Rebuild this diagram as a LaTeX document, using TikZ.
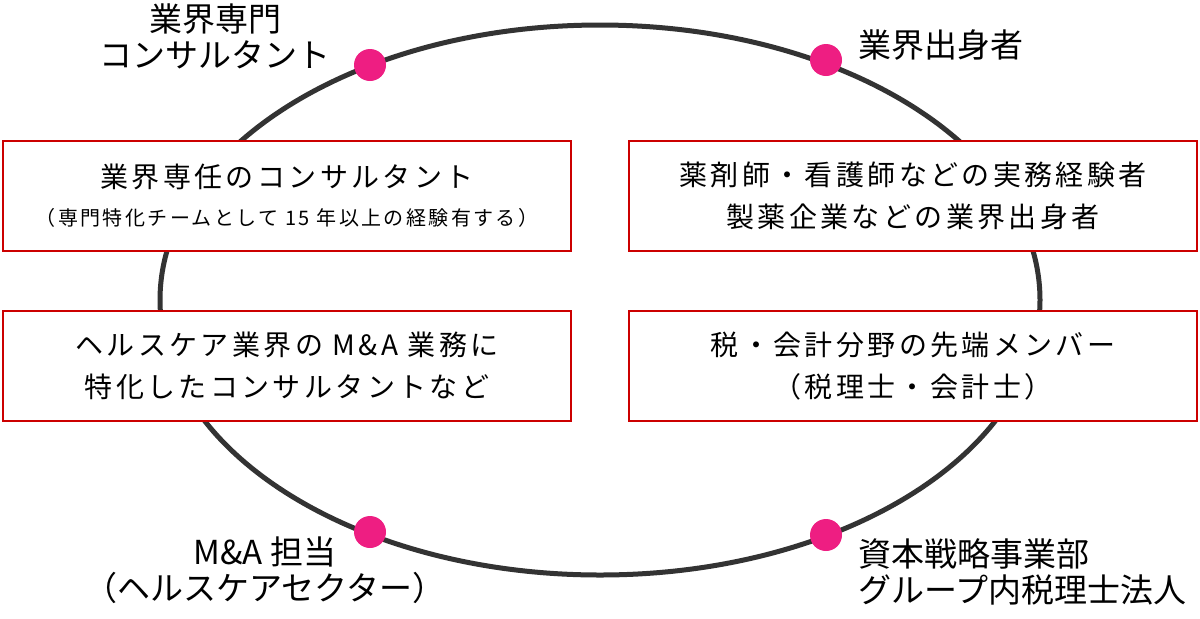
\documentclass[tikz,border=0pt]{standalone}
\usetikzlibrary{shapes.geometric}
\usepackage{fontspec}
\setmainfont{Noto Sans CJK JP}
\newfontfamily\jp[LetterSpace=12]{Noto Sans CJK JP}
\begin{document}
\begin{tikzpicture}[x=0.5pt,y=-0.5pt,
  box/.style={draw=red!80!black,line width=1pt,fill=white,minimum width=284pt,minimum height=55pt,anchor=north west,inner sep=0pt,align=center,font=\jp\fontsize{14}{21}\selectfont},
  dot/.style={circle,fill=magenta!80!red!90!white,minimum size=16pt,inner sep=0pt},
  lab/.style={font=\fontsize{16.5}{18}\selectfont,inner sep=0pt,align=center}]
\useasboundingbox (0,0) rectangle (1200,618);
\node[draw=black!80,line width=2.5pt,ellipse,minimum width=440pt,minimum height=275pt,inner sep=0pt] (ell) at (600,300) {};
\node[box] (b1) at (2,140) {業界専任のコンサルタント\\[-2pt]{\fontsize{10}{14}\selectfont （専門特化チームとして 15 年以上の経験有する）}};
\node[box] (b2) at (2,310) {ヘルスケア業界の M\&A 業務に\\特化したコンサルタントなど};
\node[box] (b3) at (628,140) {薬剤師・看護師などの実務経験者\\製薬企業などの業界出身者};
\node[box] (b4) at (628,310) {税・会計分野の先端メンバー\\（税理士・会計士）};
\node[dot] (d1) at (370,65) {};
\node[dot] (d2) at (826,60) {};
\node[dot] (d3) at (370,532) {};
\node[dot] (d4) at (826,535) {};
\node[lab] (l1) at (215,36) {業界専門\\コンサルタント};
\node[lab,anchor=west] (l2) at (858,45) {業界出身者};
\node[lab] (l3) at (265,570) {M\&A 担当\\（ヘルスケアセクター）};
\node[lab,align=left,anchor=west] (l4) at (858,572) {資本戦略事業部\\グループ内税理士法人};
\end{tikzpicture}
\end{document}
